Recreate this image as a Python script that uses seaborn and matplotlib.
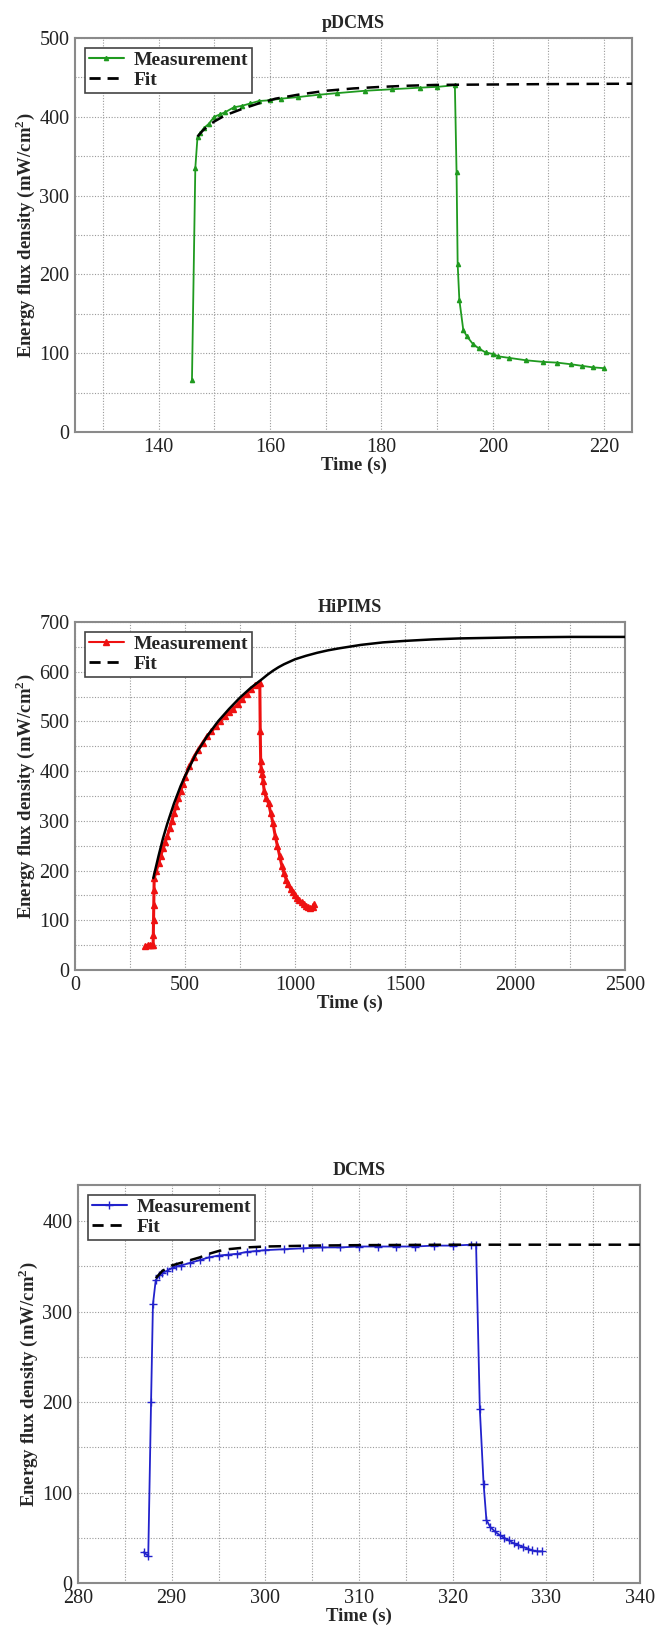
import matplotlib
matplotlib.use("Agg")
import matplotlib.pyplot as plt
from matplotlib.ticker import MultipleLocator
from matplotlib.lines import Line2D
import seaborn as sns
import pandas as pd

# ---------------- data ----------------
# pDCMS
pdcms_t = [146.0, 146.6, 147.0, 147.5, 148.2, 149, 150, 151, 152, 153.5, 155, 156.5, 158, 160, 162, 165, 168.8, 172, 177,
           182, 187, 190, 193.2, 193.5, 193.7, 194.0, 194.7, 195.3, 196.4, 197.5, 198.7, 200, 201, 203, 206, 209, 211.6,
           214, 216, 218, 220]
pdcms_y = [66, 335, 375, 380, 386, 391, 400, 403, 406, 412, 414, 417, 420, 421, 423, 425, 428, 430, 433,
           435, 437, 438, 440, 330, 213, 168, 130, 122, 112, 106, 101, 99, 96, 94, 91, 89, 88,
           86, 84, 82, 81]
pdcms_fit_t = [147, 148, 149, 150, 152, 155, 158, 161, 165, 170, 175, 180, 185, 190, 200, 210, 225]
pdcms_fit_y = [375, 383, 389, 394, 402, 410, 417, 423, 428, 433, 436, 438, 439.5, 440.5, 441, 441.5, 442]

# HiPIMS
hip_t = [320, 330, 340, 350, 355, 356, 357, 358, 359, 360, 370, 380, 390, 400, 410, 420, 430, 440, 450, 460, 470,
         480, 490, 500, 520, 540, 560, 580, 600, 620, 640, 660, 680, 700, 720, 740, 760, 780, 800, 820, 835, 840,
         842, 844, 846, 850, 855, 860, 870, 880, 890, 900, 910, 920, 930, 940, 950, 960, 970, 980, 990, 1000,
         1010, 1020, 1030, 1040, 1050, 1060, 1070, 1080, 1085]
hip_y = [48, 50, 50, 50, 50, 70, 100, 130, 160, 185, 200, 215, 230, 245, 258, 270, 285, 300, 315, 330, 345,
         360, 375, 388, 410, 428, 443, 457, 470, 480, 490, 500, 510, 518, 526, 535, 545, 555, 565, 573, 578, 578,
         480, 420, 405, 395, 380, 360, 345, 335, 315, 295, 270, 250, 230, 210, 195, 182, 172, 163, 156, 150,
         145, 140, 136, 132, 129, 127, 125, 126, 132]
hip_fit_t = [356, 380, 400, 420, 450, 480, 500, 550, 600, 650, 700, 750, 800, 850, 875, 900, 925, 950, 975, 1000,
             1050, 1100, 1150, 1200, 1300, 1400, 1500, 1625, 1750, 2000, 2250, 2500]
hip_fit_y = [185, 230, 265, 295, 335, 370, 390, 435, 470, 500, 525, 548, 568, 585, 594, 602, 609, 615, 620, 625,
             632, 638, 643, 647, 654, 659, 662, 665, 667, 669, 670, 670]

# DCMS
dc_t = [287.0, 287.5, 287.8, 288.0, 288.3, 288.7, 289.0, 289.5, 290, 290.5, 291, 292, 293, 294, 295, 296, 297, 298,
        299, 300, 302, 304, 306, 308, 310, 312, 314, 316, 318, 320, 322, 322.5, 322.9, 323.3, 323.6, 324, 324.5,
        325, 325.5, 326, 326.5, 327, 327.5, 328, 328.5, 329, 329.5]
dc_y = [34, 30, 200, 308, 335, 340, 343, 345, 348, 350, 351, 354, 357, 360, 362, 363, 364, 366,
        367, 368, 369, 370, 371, 371, 372, 372, 372, 372, 373, 373, 374, 374, 192, 110, 70, 62, 57,
        53, 50, 47, 44, 42, 40, 38, 36, 35, 35]
dc_fit_t = [288.3, 289, 290, 291, 292, 293, 294, 295, 296, 298, 300, 305, 310, 320, 340]
dc_fit_y = [337, 345, 351, 354, 357, 360, 364, 367, 369, 371, 372, 373, 373.5, 374, 374]

titles = ["pDCMS", "HiPIMS", "DCMS"]
xlabel = "Time (s)"
ylabel = "Energy flux density (mW/cm$^\\mathbf{2}$)"
legend_labels = ["Measurement", "Fit"]

# ---------------- style ----------------
sns.set_theme(style="white")
plt.rcParams["font.family"] = ["Liberation Serif", "DejaVu Serif"]
plt.rcParams["mathtext.fontset"] = "custom"
plt.rcParams["mathtext.rm"] = "Liberation Serif"
plt.rcParams["mathtext.bf"] = "Liberation Serif:bold"

fig = plt.figure(figsize=(6.55, 16.30), dpi=100)
W, H = 655, 1630


def add_axes(l, r, t, b):
    return fig.add_axes([l / W, 1 - b / H, (r - l) / W, (b - t) / H])


axes = [add_axes(75, 632, 38, 432), add_axes(75, 625, 622, 970), add_axes(78, 640, 1185, 1583)]

panels = [
    dict(t=pdcms_t, y=pdcms_y, ft=pdcms_fit_t, fy=pdcms_fit_y, color="#1f9a1f", marker="^", ms=3,
         lw=1.3, fitls="--", xlim=(125, 225), ylim=(0, 500), xmaj=20, xmin=10, ymaj=100, ymin=50),
    dict(t=hip_t, y=hip_y, ft=hip_fit_t, fy=hip_fit_y, color="#ee1111", marker="^", ms=5,
         lw=2.2, fitls="-", xlim=(0, 2500), ylim=(0, 700), xmaj=500, xmin=250, ymaj=100, ymin=50),
    dict(t=dc_t, y=dc_y, ft=dc_fit_t, fy=dc_fit_y, color="#2222cc", marker="+", ms=6,
         lw=1.3, fitls="--", xlim=(280, 340), ylim=(0, 440), xmaj=10, xmin=5, ymaj=100, ymin=50),
]

for ax, p, title in zip(axes, panels, titles):
    dm = pd.DataFrame({"t": p["t"], "y": p["y"]})
    df = pd.DataFrame({"t": p["ft"], "y": p["fy"]})
    sns.lineplot(data=dm, x="t", y="y", ax=ax, color=p["color"], marker=p["marker"], markersize=p["ms"],
                 markeredgecolor=p["color"], markeredgewidth=1.0, linewidth=p["lw"], estimator=None, sort=False,
                 zorder=3)
    sns.lineplot(data=df, x="t", y="y", ax=ax, color="black", linestyle=p["fitls"], linewidth=1.8,
                 estimator=None, sort=False, zorder=4)
    if p["fitls"] == "--":
        ax.lines[-1].set_dashes((5, 3))
    ax.set_xlim(*p["xlim"])
    ax.set_ylim(*p["ylim"])
    ax.xaxis.set_major_locator(MultipleLocator(p["xmaj"]))
    ax.xaxis.set_minor_locator(MultipleLocator(p["xmin"]))
    ax.yaxis.set_major_locator(MultipleLocator(p["ymaj"]))
    ax.yaxis.set_minor_locator(MultipleLocator(p["ymin"]))
    ax.grid(which="both", linestyle=(0, (1, 1.5)), color="#9a9a9a", linewidth=0.8)
    ax.set_axisbelow(True)
    ax.tick_params(which="both", length=0, labelsize=14.5, pad=4, colors="#222222")
    for s in ax.spines.values():
        s.set_color("#8a8a8a")
        s.set_linewidth(1.5)
    ax.set_title(title, fontsize=13, fontweight="bold", pad=7)
    ax.set_xlabel(xlabel, fontsize=13.5, fontweight="bold", labelpad=0)
    ax.set_ylabel(ylabel, fontsize=13.5, fontweight="bold", labelpad=2)
    handles = [Line2D([], [], color=p["color"], marker=p["marker"], markersize=p["ms"], linewidth=1.5),
               Line2D([], [], color="black", linestyle=(0, (4, 2.5)), linewidth=2)]
    leg = ax.legend(handles, legend_labels, loc="upper left", frameon=True, fancybox=False, framealpha=1,
                    edgecolor="#444444", prop={"weight": "bold", "size": 14}, handlelength=1.8,
                    handletextpad=0.5, borderpad=0.2, labelspacing=0.1, borderaxespad=0.5)
    leg.get_frame().set_linewidth(1.2)

fig.savefig("out.png", dpi=100)
